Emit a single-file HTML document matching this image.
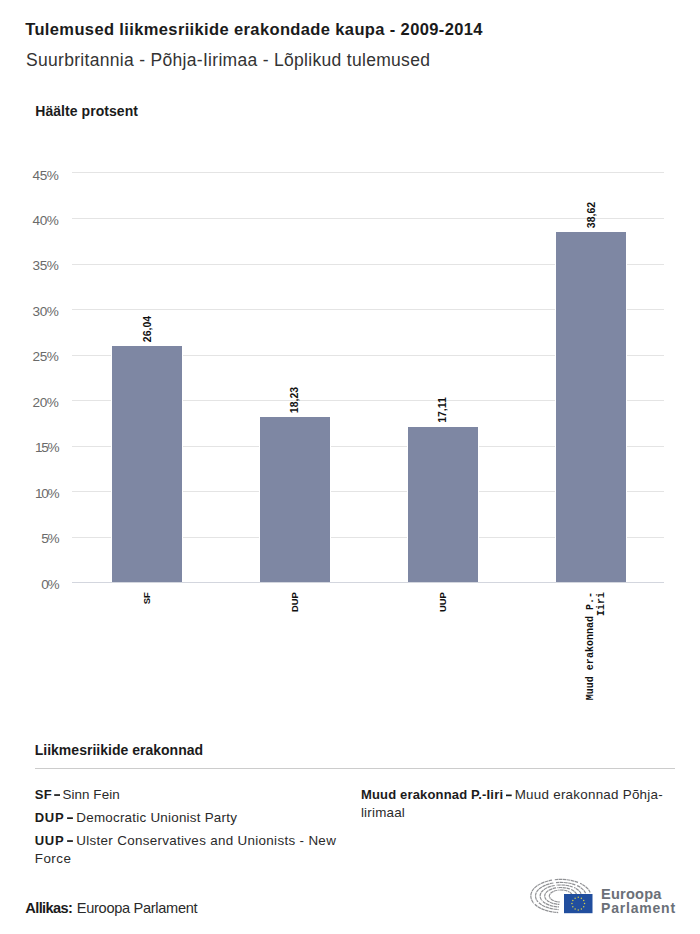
<!DOCTYPE html>
<html><head><meta charset="utf-8">
<style>
html,body{margin:0;padding:0;background:#fff;}
body{width:700px;height:934px;overflow:hidden;}
svg{display:block;}
</style></head><body>
<svg width="700" height="934" viewBox="0 0 700 934">
<text x="25.20" y="34.6" font-size="16.5" font-weight="bold" fill="#1b1b1b" font-family='"Liberation Sans",sans-serif' textLength="457.30" lengthAdjust="spacing">Tulemused liikmesriikide erakondade kaupa - 2009-2014</text>
<text x="26.00" y="65.5" font-size="17.5" font-weight="normal" fill="#333333" font-family='"Liberation Sans",sans-serif' textLength="403.90" lengthAdjust="spacing">Suurbritannia - Põhja-Iirimaa - Lõplikud tulemused</text>
<text x="35.20" y="115.5" font-size="14" font-weight="bold" fill="#1b1b1b" font-family='"Liberation Sans",sans-serif' textLength="102.80" lengthAdjust="spacing">Häälte protsent</text>
<text x="34.70" y="754.5" font-size="14" font-weight="bold" fill="#1b1b1b" font-family='"Liberation Sans",sans-serif' textLength="168.40" lengthAdjust="spacing">Liikmesriikide erakonnad</text>
<text x="34.70" y="799.3" font-size="13" font-weight="bold" fill="#1b1b1b" font-family='"Liberation Sans",sans-serif' textLength="17.10" lengthAdjust="spacing">SF</text>
<text x="62.40" y="799.3" font-size="13.4" font-weight="normal" fill="#2a2a2a" font-family='"Liberation Sans",sans-serif' textLength="57.30" lengthAdjust="spacing">Sinn Fein</text>
<text x="34.80" y="822.3" font-size="13" font-weight="bold" fill="#1b1b1b" font-family='"Liberation Sans",sans-serif' textLength="28.80" lengthAdjust="spacing">DUP</text>
<text x="76.30" y="822.3" font-size="13.4" font-weight="normal" fill="#2a2a2a" font-family='"Liberation Sans",sans-serif' textLength="160.60" lengthAdjust="spacing">Democratic Unionist Party</text>
<text x="34.80" y="845.2" font-size="13" font-weight="bold" fill="#1b1b1b" font-family='"Liberation Sans",sans-serif' textLength="28.80" lengthAdjust="spacing">UUP</text>
<text x="76.20" y="845.2" font-size="13.4" font-weight="normal" fill="#2a2a2a" font-family='"Liberation Sans",sans-serif' textLength="259.60" lengthAdjust="spacing">Ulster Conservatives and Unionists - New</text>
<text x="34.70" y="863.0" font-size="13.4" font-weight="normal" fill="#2a2a2a" font-family='"Liberation Sans",sans-serif' textLength="36.30" lengthAdjust="spacing">Force</text>
<text x="360.90" y="799.2" font-size="13" font-weight="bold" fill="#1b1b1b" font-family='"Liberation Sans",sans-serif' textLength="142.10" lengthAdjust="spacing">Muud erakonnad P.-Iiri</text>
<text x="514.70" y="799.2" font-size="13.4" font-weight="normal" fill="#2a2a2a" font-family='"Liberation Sans",sans-serif' textLength="148.00" lengthAdjust="spacing">Muud erakonnad Põhja-</text>
<text x="360.90" y="817.0" font-size="13.4" font-weight="normal" fill="#2a2a2a" font-family='"Liberation Sans",sans-serif' textLength="43.90" lengthAdjust="spacing">lirimaal</text>
<text x="25.30" y="913.2" font-size="14.6" font-weight="bold" fill="#1b1b1b" font-family='"Liberation Sans",sans-serif' textLength="47.60" lengthAdjust="spacing">Allikas:</text>
<text x="76.80" y="913.2" font-size="14.6" font-weight="normal" fill="#2a2a2a" font-family='"Liberation Sans",sans-serif' textLength="120.80" lengthAdjust="spacing">Euroopa Parlament</text>
<text x="601.00" y="898.5" font-size="14.6" font-weight="bold" fill="#6b7078" font-family='"Liberation Sans",sans-serif' textLength="60.40" lengthAdjust="spacing">Euroopa</text>
<text x="601.00" y="913.2" font-size="14" font-weight="bold" fill="#6b7078" font-family='"Liberation Sans",sans-serif' textLength="74.10" lengthAdjust="spacing">Parlament</text>
<text x="58.4" y="588.9" font-size="13.6" font-weight="normal" fill="#6a6a6a" letter-spacing="-1.2" text-anchor="end" font-family='"Liberation Sans",sans-serif' >0%</text>
<rect x="72" y="537" width="592" height="1" fill="#e4e4e4"/>
<text x="58.4" y="542.9" font-size="13.6" font-weight="normal" fill="#6a6a6a" letter-spacing="-1.2" text-anchor="end" font-family='"Liberation Sans",sans-serif' >5%</text>
<rect x="72" y="491" width="592" height="1" fill="#e4e4e4"/>
<text x="58.4" y="498.1" font-size="13.6" font-weight="normal" fill="#6a6a6a" letter-spacing="-1.3" text-anchor="end" font-family='"Liberation Sans",sans-serif' >10%</text>
<rect x="72" y="446" width="592" height="1" fill="#e4e4e4"/>
<text x="58.4" y="451.9" font-size="13.6" font-weight="normal" fill="#6a6a6a" letter-spacing="-1.3" text-anchor="end" font-family='"Liberation Sans",sans-serif' >15%</text>
<rect x="72" y="400" width="592" height="1" fill="#e4e4e4"/>
<text x="58.4" y="406.8" font-size="13.6" font-weight="normal" fill="#6a6a6a" letter-spacing="-0.45" text-anchor="end" font-family='"Liberation Sans",sans-serif' >20%</text>
<rect x="72" y="355" width="592" height="1" fill="#e4e4e4"/>
<text x="58.4" y="361.2" font-size="13.6" font-weight="normal" fill="#6a6a6a" letter-spacing="-0.45" text-anchor="end" font-family='"Liberation Sans",sans-serif' >25%</text>
<rect x="72" y="309" width="592" height="1" fill="#e4e4e4"/>
<text x="58.4" y="315.8" font-size="13.6" font-weight="normal" fill="#6a6a6a" letter-spacing="-0.45" text-anchor="end" font-family='"Liberation Sans",sans-serif' >30%</text>
<rect x="72" y="264" width="592" height="1" fill="#e4e4e4"/>
<text x="58.4" y="269.9" font-size="13.6" font-weight="normal" fill="#6a6a6a" letter-spacing="-0.45" text-anchor="end" font-family='"Liberation Sans",sans-serif' >35%</text>
<rect x="72" y="218" width="592" height="1" fill="#e4e4e4"/>
<text x="58.4" y="224.9" font-size="13.6" font-weight="normal" fill="#6a6a6a" letter-spacing="-0.45" text-anchor="end" font-family='"Liberation Sans",sans-serif' >40%</text>
<rect x="72" y="172" width="592" height="1" fill="#e4e4e4"/>
<text x="58.4" y="179.9" font-size="13.6" font-weight="normal" fill="#6a6a6a" letter-spacing="-0.45" text-anchor="end" font-family='"Liberation Sans",sans-serif' >45%</text>
<rect x="111" y="345" width="72" height="237" fill="#ffffff"/>
<rect x="112" y="346" width="70" height="236" fill="#7e87a3"/>
<text x="0" y="0" font-size="10.5" font-weight="bold" fill="#111" letter-spacing="0" text-anchor="middle" font-family='"Liberation Sans",sans-serif' transform="translate(151.10,329.00) rotate(-90)">26,04</text>
<rect x="259" y="416" width="72" height="166" fill="#ffffff"/>
<rect x="260" y="417" width="70" height="165" fill="#7e87a3"/>
<text x="0" y="0" font-size="10.5" font-weight="bold" fill="#111" letter-spacing="0" text-anchor="middle" font-family='"Liberation Sans",sans-serif' transform="translate(297.85,400.00) rotate(-90)">18,23</text>
<rect x="407" y="426" width="72" height="156" fill="#ffffff"/>
<rect x="408" y="427" width="70" height="155" fill="#7e87a3"/>
<text x="0" y="0" font-size="10.5" font-weight="bold" fill="#111" letter-spacing="0" text-anchor="middle" font-family='"Liberation Sans",sans-serif' transform="translate(445.95,410.00) rotate(-90)">17,11</text>
<rect x="555" y="231" width="72" height="351" fill="#ffffff"/>
<rect x="556" y="232" width="70" height="350" fill="#7e87a3"/>
<text x="0" y="0" font-size="10.5" font-weight="bold" fill="#111" letter-spacing="0" text-anchor="middle" font-family='"Liberation Sans",sans-serif' transform="translate(595.05,215.00) rotate(-90)">38,62</text>
<rect x="72" y="582" width="592" height="1" fill="#d3d6de"/>
<text x="0" y="0" font-size="9.4" font-weight="bold" fill="#111" letter-spacing="0" text-anchor="end" font-family='"Liberation Sans",sans-serif' transform="translate(150.00,592.2) rotate(-90)">SF</text>
<text x="0" y="0" font-size="9.4" font-weight="bold" fill="#111" letter-spacing="0" text-anchor="end" font-family='"Liberation Sans",sans-serif' transform="translate(298.00,592.2) rotate(-90)">DUP</text>
<text x="0" y="0" font-size="9.4" font-weight="bold" fill="#111" letter-spacing="0" text-anchor="end" font-family='"Liberation Sans",sans-serif' transform="translate(446.00,592.2) rotate(-90)">UUP</text>
<text x="0" y="0" font-size="10" font-weight="bold" fill="#111" letter-spacing="0" text-anchor="end" font-family='"Liberation Mono",monospace' transform="translate(593,592.1) rotate(-90)">Muud erakonnad P.-</text>
<text x="0" y="0" font-size="10" font-weight="bold" fill="#111" letter-spacing="0" text-anchor="end" font-family='"Liberation Mono",monospace' transform="translate(603.8,592.1) rotate(-90)">Iiri</text>
<rect x="35" y="768" width="640" height="1" fill="#cccccc"/>
<rect x="54.2" y="794.2" width="5.8" height="1.7" fill="#1b1b1b"/>
<rect x="67.1" y="817.3" width="5.8" height="1.7" fill="#1b1b1b"/>
<rect x="67.1" y="840.2" width="5.8" height="1.7" fill="#1b1b1b"/>
<rect x="506.0" y="794.5" width="5.7" height="1.7" fill="#1b1b1b"/>
<path d="M590.14,892.55 A30.0,16.6 0 0 0 580.08,883.28" fill="none" stroke="#909194" stroke-width="1.2" stroke-dasharray="3.5 0.5"/>
<path d="M578.01,882.40 A30.0,16.6 0 0 0 554.56,879.76" fill="none" stroke="#909194" stroke-width="1.2" stroke-dasharray="3.5 0.5"/>
<path d="M552.03,880.13 A30.0,16.6 0 0 0 533.84,903.28" fill="none" stroke="#909194" stroke-width="1.2" stroke-dasharray="3.5 0.5"/>
<path d="M534.82,904.30 A30.0,16.6 0 0 0 558.19,912.54" fill="none" stroke="#909194" stroke-width="1.2" stroke-dasharray="3.5 0.5"/>
<path d="M585.55,893.17 A25.3,13.6 0 0 0 577.06,885.58" fill="none" stroke="#909194" stroke-width="1.2" stroke-dasharray="3.5 0.5"/>
<path d="M575.31,884.86 A25.3,13.6 0 0 0 555.54,882.70" fill="none" stroke="#909194" stroke-width="1.2" stroke-dasharray="3.5 0.5"/>
<path d="M553.40,882.99 A25.3,13.6 0 0 0 538.06,901.96" fill="none" stroke="#909194" stroke-width="1.2" stroke-dasharray="3.5 0.5"/>
<path d="M538.89,902.80 A25.3,13.6 0 0 0 558.59,909.55" fill="none" stroke="#909194" stroke-width="1.2" stroke-dasharray="3.5 0.5"/>
<path d="M581.05,893.71 A20.7,11.0 0 0 0 574.11,887.57" fill="none" stroke="#909194" stroke-width="1.2" stroke-dasharray="3.5 0.5"/>
<path d="M572.67,886.99 A20.7,11.0 0 0 0 556.50,885.24" fill="none" stroke="#909194" stroke-width="1.2" stroke-dasharray="3.5 0.5"/>
<path d="M554.75,885.48 A20.7,11.0 0 0 0 542.19,900.82" fill="none" stroke="#909194" stroke-width="1.2" stroke-dasharray="3.5 0.5"/>
<path d="M542.87,901.50 A20.7,11.0 0 0 0 559.00,906.96" fill="none" stroke="#909194" stroke-width="1.2" stroke-dasharray="3.5 0.5"/>
<path d="M576.55,894.23 A16.1,8.5 0 0 0 571.15,889.49" fill="none" stroke="#909194" stroke-width="1.2" stroke-dasharray="3.5 0.5"/>
<path d="M570.03,889.04 A16.1,8.5 0 0 0 557.45,887.69" fill="none" stroke="#909194" stroke-width="1.2" stroke-dasharray="3.5 0.5"/>
<path d="M556.09,887.87 A16.1,8.5 0 0 0 546.33,899.73" fill="none" stroke="#909194" stroke-width="1.2" stroke-dasharray="3.5 0.5"/>
<path d="M546.86,900.25 A16.1,8.5 0 0 0 559.40,904.47" fill="none" stroke="#909194" stroke-width="1.2" stroke-dasharray="3.5 0.5"/>
<path d="M572.05,894.75 A11.5,6.0 0 0 0 568.19,891.40" fill="none" stroke="#909194" stroke-width="1.2" stroke-dasharray="3.5 0.5"/>
<path d="M567.40,891.09 A11.5,6.0 0 0 0 558.41,890.13" fill="none" stroke="#909194" stroke-width="1.2" stroke-dasharray="3.5 0.5"/>
<path d="M557.44,890.26 A11.5,6.0 0 0 0 550.46,898.63" fill="none" stroke="#909194" stroke-width="1.2" stroke-dasharray="3.5 0.5"/>
<path d="M550.84,899.00 A11.5,6.0 0 0 0 559.80,901.98" fill="none" stroke="#909194" stroke-width="1.2" stroke-dasharray="3.5 0.5"/>
<rect x="564" y="894" width="28.5" height="19.2" fill="#214e9e"/>
<circle cx="584.55" cy="903.60" r="0.75" fill="#d4cf4a"/>
<circle cx="583.71" cy="906.75" r="0.75" fill="#d4cf4a"/>
<circle cx="581.40" cy="909.06" r="0.75" fill="#d4cf4a"/>
<circle cx="578.25" cy="909.90" r="0.75" fill="#d4cf4a"/>
<circle cx="575.10" cy="909.06" r="0.75" fill="#d4cf4a"/>
<circle cx="572.79" cy="906.75" r="0.75" fill="#d4cf4a"/>
<circle cx="571.95" cy="903.60" r="0.75" fill="#d4cf4a"/>
<circle cx="572.79" cy="900.45" r="0.75" fill="#d4cf4a"/>
<circle cx="575.10" cy="898.14" r="0.75" fill="#d4cf4a"/>
<circle cx="578.25" cy="897.30" r="0.75" fill="#d4cf4a"/>
<circle cx="581.40" cy="898.14" r="0.75" fill="#d4cf4a"/>
<circle cx="583.71" cy="900.45" r="0.75" fill="#d4cf4a"/>
</svg>
</body></html>
